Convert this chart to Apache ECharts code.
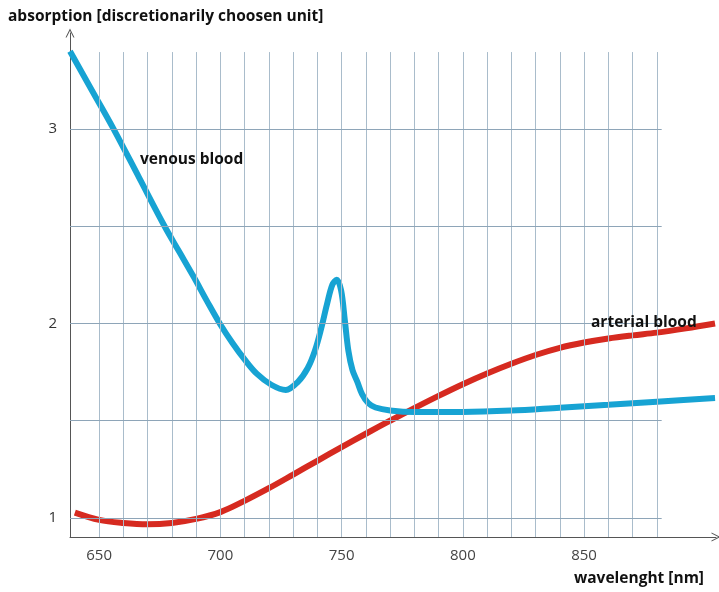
<!DOCTYPE html>
<html>
<head>
<meta charset="utf-8">
<script src="https://cdn.jsdelivr.net/npm/echarts@6/dist/echarts.min.js"></script>
<style>
  html, body { margin: 0; padding: 0; background: #fff; }
  #chart { width: 719px; height: 592px; }
</style>
</head>
<body>
<div id="chart"></div>
<script>
// venous blood [nm, absorption]
const venous = [
  [638, 3.40], [647, 3.20], [656, 3.00], [666.5, 2.75], [677, 2.50], [683, 2.37],
  [689, 2.24], [694.5, 2.115], [700, 1.995], [705, 1.90], [710, 1.815], [715, 1.742],
  [721, 1.685], [727, 1.658], [732, 1.70], [736, 1.77], [739, 1.86], [741.5, 1.97],
  [744, 2.10], [746.2, 2.20], [748, 2.225], [749.8, 2.17], [751.3, 2.02], [752.8, 1.86],
  [754.5, 1.76], [756.5, 1.70], [758.5, 1.635], [761, 1.59], [764, 1.568],
  [770, 1.553], [780, 1.545], [800, 1.545], [820, 1.552], [840, 1.567], [860, 1.582],
  [880, 1.598], [904, 1.617]
];
// arterial blood [nm, absorption]
const arterial = [
  [640, 1.027], [650, 0.99], [660, 0.974], [670, 0.967], [680, 0.974], [690, 0.995],
  [700, 1.03], [710, 1.088], [720, 1.153], [730, 1.223], [740, 1.294], [750, 1.364],
  [760, 1.433], [770, 1.50], [780, 1.565], [790, 1.628], [800, 1.688], [810, 1.743],
  [820, 1.793], [830, 1.838], [840, 1.875], [850, 1.902], [860, 1.923], [870, 1.939],
  [880, 1.953], [892, 1.975], [904, 2.00]
];

const xTickLabels = [650, 700, 750, 800, 850];
const yTickLabels = [1, 2, 3];
const gridX = [650, 660, 670, 680, 690, 700, 710, 720, 730, 740, 750, 760,
               770, 780, 790, 800, 810, 820, 830, 840, 850, 860, 870, 880];
const gridY = [1, 1.5, 2, 2.5, 3];

const xMin = 638, xMax = 904.4;
const yMin = 0.902, yMax = 3.494;
const gridTop = 3.396, gridRight = 882;

const chart = echarts.init(document.getElementById('chart'));

const arrow = 'path://M0,10 L5,0 L10,10 L8.8,10 L5,2.4 L1.2,10 Z';
const font = 'Open Sans, Lato, sans-serif';
const textStyle = { fontFamily: font, fontWeight: 'bold', fontSize: 15.5, color: '#111' };

// raster of the paper grid
const gridLines = [];
gridX.forEach(x => gridLines.push([
  { coord: [x, yMin], lineStyle: { color: '#a9bccb' } },
  { coord: [x, gridTop] }
]));
gridY.forEach(y => gridLines.push([
  { coord: [xMin, y], lineStyle: { color: '#8ea5b8' } },
  { coord: [gridRight, y] }
]));

const option = {
  animation: false,
  backgroundColor: '#fff',
  title: [
    { text: 'absorption [discretionarily choosen unit]', left: 3, top: 4, textStyle },
    { text: 'wavelenght [nm]', right: 10, top: 566, textStyle },
    { text: 'venous blood', left: 135, top: 147, textStyle },
    { text: 'arterial blood', left: 586, top: 310, textStyle }
  ],
  grid: { left: 70, right: 3, top: 33, bottom: 55 },
  xAxis: {
    type: 'value',
    min: xMin,
    max: xMax,
    splitLine: { show: false },
    axisTick: { show: false },
    axisLine: {
      lineStyle: { color: '#555', width: 1 },
      symbol: ['none', arrow],
      symbolSize: [9, 9]
    },
    axisLabel: {
      customValues: xTickLabels,
      margin: 11,
      fontFamily: font,
      fontSize: 15,
      color: '#444'
    }
  },
  yAxis: {
    type: 'value',
    min: yMin,
    max: yMax,
    splitLine: { show: false },
    axisTick: { show: false },
    axisLine: {
      show: true,
      lineStyle: { color: '#555', width: 1 },
      symbol: ['none', arrow],
      symbolSize: [9, 9]
    },
    axisLabel: {
      customValues: yTickLabels,
      margin: 13,
      fontFamily: font,
      fontSize: 15,
      color: '#333'
    }
  },
  series: [
    {
      name: 'grid',
      type: 'line',
      data: [],
      z: 1,
      silent: true,
      markLine: {
        silent: true,
        symbol: 'none',
        label: { show: false },
        lineStyle: { type: 'solid', width: 1 },
        data: gridLines
      }
    },
    {
      name: 'arterial blood',
      type: 'line',
      data: arterial,
      smooth: 0.35,
      showSymbol: false,
      z: 3,
      lineStyle: { color: '#d62a20', width: 6 }
    },
    {
      name: 'venous blood',
      type: 'line',
      data: venous,
      smooth: 0.35,
      showSymbol: false,
      z: 4,
      lineStyle: { color: '#17a3d3', width: 6 }
    }
  ]
};

chart.setOption(option);
</script>
</body>
</html>
